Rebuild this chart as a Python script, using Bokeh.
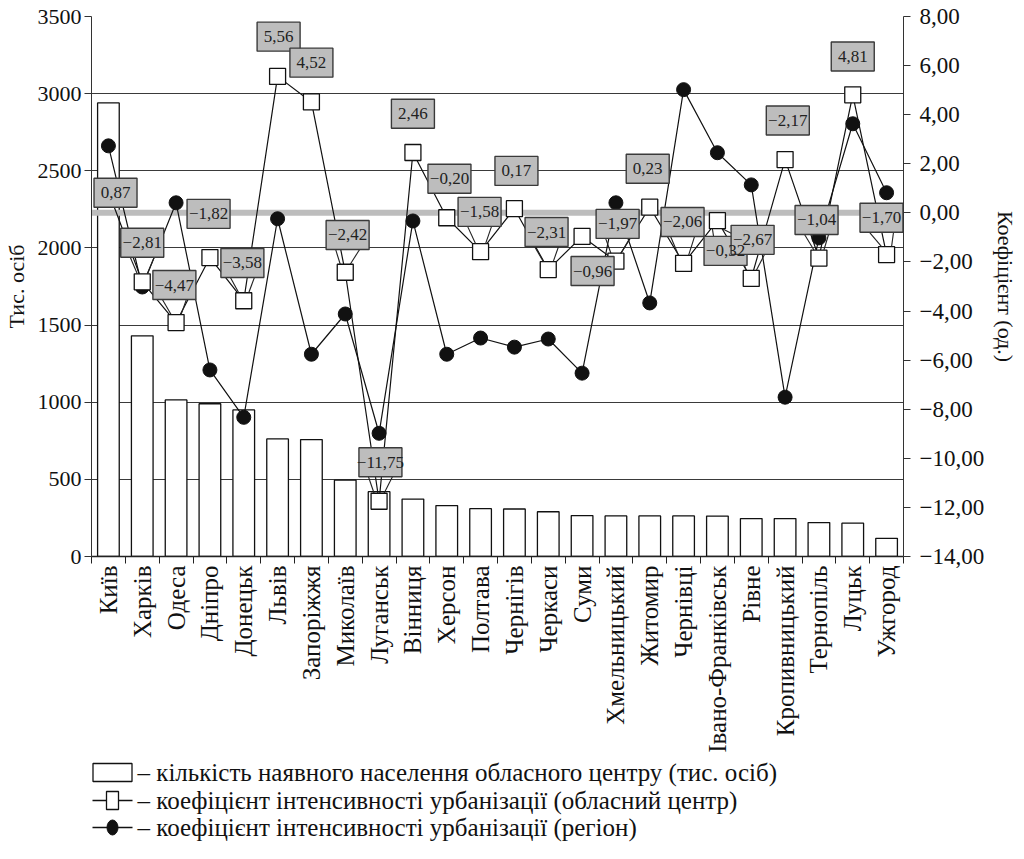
import math
from bokeh.plotting import figure
from bokeh.layouts import column
from bokeh.models import Range1d, LinearAxis, FixedTicker
from bokeh.embed import file_html
from bokeh.resources import INLINE
from bokeh.core.properties import value

# ---------------- data ----------------
cities = ["Київ", "Харків", "Одеса", "Дніпро", "Донецьк", "Львів", "Запоріжжя",
          "Миколаїв", "Луганськ", "Вінниця", "Херсон", "Полтава", "Чернігів",
          "Черкаси", "Суми", "Хмельницький", "Житомир", "Чернівці",
          "Івано-Франківськ", "Рівне", "Кропивницький", "Тернопіль", "Луцьк", "Ужгород"]

population = [2940, 1430, 1015, 990, 950, 762, 758, 495, 420, 372, 330, 310, 308,
              290, 265, 263, 263, 263, 262, 246, 246, 220, 216, 118]

coef_center = [0.87, -2.81, -4.47, -1.82, -3.58, 5.56, 4.52, -2.42, -11.75, 2.46,
               -0.20, -1.58, 0.17, -2.31, -0.96, -1.97, 0.23, -2.06, -0.32, -2.67,
               2.17, -1.84, 4.81, -1.70]

coef_region = [2.73, -3.02, 0.41, -6.40, -8.33, -0.24, -5.76, -4.12, -8.98, -0.33,
               -5.76, -5.10, -5.47, -5.14, -6.53, 0.41, -3.67, 5.02, 2.45, 1.14,
               -7.51, -1.02, 3.63, 0.82]

center_labels = ["0,87", "−2,81", "−4,47", "−1,82", "−3,58", "5,56", "4,52", "−2,42",
                 "−11,75", "2,46", "−0,20", "−1,58", "0,17", "−2,31", "−0,96", "−1,97",
                 "0,23", "−2,06", "−0,32", "−2,67", "−2,17", "−1,04", "4,81", "−1,70"]

left_ticks = [0, 500, 1000, 1500, 2000, 2500, 3000, 3500]
right_ticks = [-14, -12, -10, -8, -6, -4, -2, 0, 2, 4, 6, 8]
zero_level = 0

legend_texts = ["– кількість наявного населення обласного центру (тис. осіб)",
                "– коефіцієнт інтенсивності урбанізації (обласний центр)",
                "– коефіцієнт інтенсивності урбанізації (регіон)"]

# ---------------- label layout (callout placement) ----------------
label_dx = [0.21, 0.0, -0.05, -0.04, -0.04, 0.03, 0.0, 0.07, 0.04, 0.0, 0.08, -0.03,
            0.06, -0.05, 0.31, 0.05, -0.06, -0.03, 0.24, 0.04, 0.08, -0.07, 0.0, -0.15]
label_y = [0.82, -1.22, -2.94, -0.04, -2.04, 7.18, 6.12, -0.90, -10.16, 4.04, 1.39, 0.04,
           1.71, -0.78, -2.37, -0.45, 1.80, -0.37, -1.55, -1.10, 3.76, -0.29, 6.37, -0.20]
has_leader = [False, True, True, False, True, False, False, True, True, False, False, True,
              False, True, False, True, False, True, True, True, False, True, False, True]

# ---------------- main figure ----------------
FONT = "Liberation Serif"
n = len(cities)
xc = [i + 0.5 for i in range(n)]
FW, FH = 812, 540
Y_LO, Y_HI = right_ticks[0], right_ticks[-1]

p = figure(frame_width=FW, frame_height=FH, output_backend="svg", toolbar_location=None,
           x_range=Range1d(0, n), y_range=Range1d(0, 3500),
           min_border_left=85, min_border_top=16, min_border_right=0, min_border_bottom=0)
p.extra_y_ranges = {"coef": Range1d(Y_LO, Y_HI)}
p.outline_line_color = None
p.background_fill_color = "white"

p.xgrid.visible = False
p.ygrid.ticker = FixedTicker(ticks=left_ticks)
p.ygrid.grid_line_color = "#3a3a3a"
p.ygrid.grid_line_width = 1.2

xa = p.xaxis[0]
xa.ticker = FixedTicker(ticks=xc, minor_ticks=list(range(n + 1)))
xa.major_label_overrides = {x: c for x, c in zip(xc, cities)}
xa.major_label_orientation = math.pi / 2
xa.major_tick_out = 0
xa.major_tick_in = 0
xa.minor_tick_out = 7
xa.minor_tick_in = 0
xa.minor_tick_line_color = "#222"
xa.axis_line_color = "#222"
xa.axis_line_width = 1.5
xa.major_label_standoff = 2
xa.major_label_text_font = FONT
xa.major_label_text_font_size = "25px"
xa.major_label_text_color = "#111"

ya = p.yaxis[0]
ya.ticker = FixedTicker(ticks=left_ticks)
ya.major_tick_out = 7
ya.major_tick_in = 0
ya.minor_tick_out = 0
ya.minor_tick_in = 0
ya.axis_line_color = "#333"
ya.major_tick_line_color = "#333"
ya.major_label_text_font = FONT
ya.major_label_text_font_size = "22px"
ya.major_label_text_color = "#111"
ya.major_label_standoff = 3
ya.axis_label = "Тис. осіб"
ya.axis_label_text_font = FONT
ya.axis_label_text_font_size = "22px"
ya.axis_label_text_font_style = "normal"
ya.axis_label_text_color = "#111"
ya.axis_label_standoff = 6

ra = LinearAxis(y_range_name="coef")
ra.ticker = FixedTicker(ticks=right_ticks)
ra.major_label_overrides = {t: f"{t:.2f}".replace(".", ",").replace("-", "−") for t in right_ticks}
ra.major_tick_out = 7
ra.major_tick_in = 0
ra.minor_tick_out = 0
ra.minor_tick_in = 0
ra.axis_line_color = "#333"
ra.major_tick_line_color = "#333"
ra.major_label_text_font = FONT
ra.major_label_text_font_size = "23px"
ra.major_label_text_color = "#111"
ra.major_label_standoff = 9
ra.axis_label = "Коефіцієнт (од.)"
ra.axis_label_text_font = FONT
ra.axis_label_text_font_size = "22px"
ra.axis_label_text_font_style = "normal"
ra.axis_label_text_color = "#111"
ra.axis_label_standoff = 6
p.add_layout(ra, "right")

p.vbar(x=xc, top=population, width=0.64, fill_color="white",
       line_color="#111", line_width=1.3)

p.line(x=[0, n], y=[zero_level, zero_level], y_range_name="coef",
       line_color="#bdbdbd", line_width=6)

p.line(x=xc, y=coef_region, y_range_name="coef", line_color="#111", line_width=1.2)
p.line(x=xc, y=coef_center, y_range_name="coef", line_color="#111", line_width=1.2)
p.scatter(x=xc, y=coef_region, y_range_name="coef", marker="circle", size=14,
          fill_color="#111", line_color="#111")
p.scatter(x=xc, y=coef_center, y_range_name="coef", marker="square", size=16,
          fill_color="white", line_color="#111", line_width=1.3)

ux = FW / n
uy = FH / (Y_HI - Y_LO)
x0s, y0s, x1s, y1s = [], [], [], []
for i in range(n):
    if not has_leader[i]:
        continue
    lx = xc[i] + label_dx[i]
    ly = label_y[i]
    sy = coef_center[i]
    if ly > sy:
        by = ly - 14.5 / uy
        ty = sy + 8 / uy
    else:
        by = ly + 14.5 / uy
        ty = sy - 8 / uy
    for s in (-1, 1):
        x0s.append(lx + s * 12 / ux)
        y0s.append(by)
        x1s.append(xc[i] + s * 5 / ux)
        y1s.append(ty)
p.segment(x0=x0s, y0=y0s, x1=x1s, y1=y1s, y_range_name="coef",
          line_color="#222", line_width=1.1)

lxs = [xc[i] + label_dx[i] for i in range(n)]
p.rect(x=lxs, y=label_y, width=43, height=29, width_units="screen", height_units="screen",
       y_range_name="coef", fill_color="#bdbdbd", line_color="#3a3a3a", line_width=1.4)
p.text(x=lxs, y=label_y, text=center_labels, y_range_name="coef",
       text_font=value(FONT), text_font_size="17px", text_color="#222",
       text_align="center", text_baseline="middle")

# ---------------- legend figure (drawn below, frame aligned with main) ----------------
LH = 90
lg = figure(frame_width=FW, frame_height=LH, output_backend="svg", toolbar_location=None,
            x_range=Range1d(0, FW), y_range=Range1d(LH, 0),
            x_axis_type=None, y_axis_type=None,
            min_border_left=85, min_border_right=0, min_border_top=0, min_border_bottom=0)
lg.outline_line_color = None
lg.xgrid.visible = False
lg.ygrid.visible = False

row_y = [17, 45, 72]
gx0, gx1 = 1, 41
gxc = (gx0 + gx1) / 2
lg.rect(x=[gxc], y=[row_y[0]], width=39, height=18, fill_color="white",
        line_color="#111", line_width=1.3)
lg.segment(x0=[gx0, gx0], y0=row_y[1:], x1=[gx1, gx1], y1=row_y[1:],
           line_color="#111", line_width=1.3)
lg.rect(x=[gxc], y=[row_y[1]], width=12, height=18, fill_color="white",
        line_color="#111", line_width=1.3)
lg.ellipse(x=[gxc], y=[row_y[2]], width=11, height=15, fill_color="#111",
           line_color="#111")
lg.text(x=[gx1 + 5] * 3, y=row_y, text=legend_texts, text_font=value(FONT),
        text_font_size="25px", text_color="#111", text_align="left",
        text_baseline="middle")

open("out.html", "w").write(file_html(column(p, lg), INLINE))
